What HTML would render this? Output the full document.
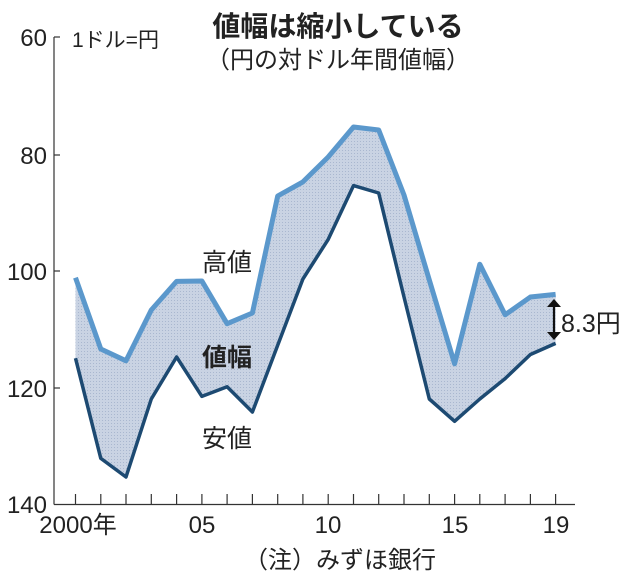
<!DOCTYPE html>
<html><head><meta charset="utf-8"><style>
html,body{margin:0;padding:0;background:#fff;}
svg text{font-family:"Liberation Sans","Noto Sans CJK JP",sans-serif;fill:#222;}
</style></head><body>
<svg width="630" height="582" viewBox="0 0 630 582" xmlns="http://www.w3.org/2000/svg">
<defs>
<pattern id="dots" width="3" height="3" patternUnits="userSpaceOnUse">
<rect width="3" height="3" fill="#c9d3e3"/><rect width="1" height="1" fill="#a9b7cf"/>
</pattern>
</defs>
<polygon fill="url(#dots)" points="75.5,277.7 100.8,349 126,360.8 151.3,310 176.6,281.4 201.9,281 227.1,323.7 252.4,313 277.7,196 302.9,181.9 328.2,157 353.5,127 378.7,130 404,195 429.3,280 454.6,363.8 479.8,264.3 505.1,314.8 530.4,297 555.6,294.4 555.6,343.4 530.4,354.5 505.1,378.6 479.8,399 454.6,421.3 429.3,399 404,297 378.7,193 353.5,185.6 328.2,239.4 302.9,279 277.7,345.2 252.4,412 227.1,386.8 201.9,396.4 176.6,357 151.3,399 126,477 100.8,458.4 75.5,358.2"/>
<g stroke="#333" stroke-width="1.2" fill="none">
<line x1="54" y1="37" x2="54" y2="504.5"/>
<line x1="54" y1="504.5" x2="575" y2="504.5"/>
<line x1="54" y1="37" x2="60" y2="37"/>
<line x1="54" y1="155" x2="60" y2="155"/>
<line x1="54" y1="271" x2="60" y2="271"/>
<line x1="54" y1="388" x2="60" y2="388"/>
<path d="M75.5 504v-10M100.8 504v-10M126 504v-10M151.3 504v-10M176.6 504v-10M201.9 504v-10M227.1 504v-10M252.4 504v-10M277.7 504v-10M302.9 504v-10M328.2 504v-10M353.5 504v-10M378.7 504v-10M404 504v-10M429.3 504v-10M454.6 504v-10M479.8 504v-10M505.1 504v-10M530.4 504v-10M555.6 504v-10"/>
</g>
<polyline fill="none" stroke="#5b98cc" stroke-width="5" stroke-linejoin="round" points="75.5,277.7 100.8,349 126,360.8 151.3,310 176.6,281.4 201.9,281 227.1,323.7 252.4,313 277.7,196 302.9,181.9 328.2,157 353.5,127 378.7,130 404,195 429.3,280 454.6,363.8 479.8,264.3 505.1,314.8 530.4,297 555.6,294.4"/>
<polyline fill="none" stroke="#1d4a72" stroke-width="3.5" stroke-linejoin="round" points="75.5,358.2 100.8,458.4 126,477 151.3,399 176.6,357 201.9,396.4 227.1,386.8 252.4,412 277.7,345.2 302.9,279 328.2,239.4 353.5,185.6 378.7,193 404,297 429.3,399 454.6,421.3 479.8,399 505.1,378.6 530.4,354.5 555.6,343.4"/>
<g font-size="24" text-anchor="end">
<text x="47" y="46">60</text>
<text x="47" y="164">80</text>
<text x="47" y="280">100</text>
<text x="47" y="397">120</text>
<text x="47" y="513">140</text>
</g>
<text x="72" y="47" font-size="21">1ドル=円</text>
<text x="338" y="36" font-size="28" font-weight="bold" text-anchor="middle">値幅は縮小している</text>
<text x="338" y="68" font-size="24" text-anchor="middle">（円の対ドル年間値幅）</text>
<g font-size="24" text-anchor="middle">
<text x="78" y="533">2000年</text>
<text x="202" y="533">05</text>
<text x="328" y="533">10</text>
<text x="455" y="533">15</text>
<text x="556" y="533">19</text>
</g>
<text x="340" y="568" font-size="24" text-anchor="middle">（注）みずほ銀行</text>
<text x="202" y="271" font-size="25">高値</text>
<text x="202" y="366" font-size="25" font-weight="bold">値幅</text>
<text x="202" y="447" font-size="25">安値</text>
<text x="561" y="332" font-size="25">8.3円</text>
<g stroke="#111" stroke-width="2.2" fill="#111">
<line x1="554" y1="305" x2="554" y2="334"/>
<polygon points="547,307 561,307 554,299" stroke="none"/>
<polygon points="547,332 561,332 554,340" stroke="none"/>
</g>
</svg>
</body></html>
